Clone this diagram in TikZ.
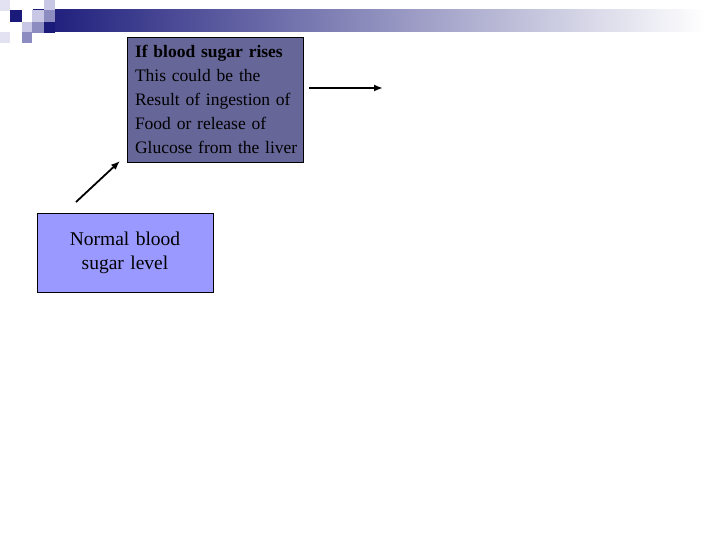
\documentclass[tikz,border=0pt]{standalone}
\usepackage{fontspec}
\setmainfont{Liberation Serif}
\usetikzlibrary{arrows.meta, positioning}
\definecolor{navyblock}{RGB}{26,26,122}
\definecolor{midblock}{RGB}{140,140,192}
\definecolor{lightblock}{RGB}{200,200,230}
\definecolor{paleblock}{RGB}{226,226,242}
\definecolor{risefill}{RGB}{102,102,153}
\definecolor{normalfill}{RGB}{153,153,255}
\tikzset{
  slidebox/.style={
    draw, line width=0.8pt, inner sep=0pt
  },
  risebox/.style={
    slidebox, fill=risefill, align=left, text width=172,
    font=\fontsize{17.5}{24}\selectfont,
    minimum width=176, minimum height=125
  },
  normalbox/.style={
    slidebox, fill=normalfill, align=center, text width=170,
    font=\fontsize{19.5}{24}\selectfont,
    minimum width=176, minimum height=79
  },
  flowarrow/.style={-{Latex[length=9pt, width=7pt]}, line width=1.8pt}
}
\begin{document}
\begin{tikzpicture}[x=1pt, y=-1pt]
  \useasboundingbox[fill=white] (0,0) rectangle (720,540);

  % Title bar and corner blocks
  \shade[left color=navyblock, right color=white] (33,10) rectangle (705,32);
  \fill[paleblock]  (0,0)   rectangle (10,11);
  \fill[paleblock]  (0,32)  rectangle (10,43);
  \fill[navyblock]  (10,10) rectangle (22,22);
  \fill[lightblock] (32,10) rectangle (44,22);
  \fill[lightblock] (44,0)  rectangle (55,10);
  \fill[midblock]   (44,10) rectangle (55,22);
  \fill[navyblock]  (44,22) rectangle (55,33);
  \fill[midblock]   (32,22) rectangle (44,33);
  \fill[lightblock] (22,22) rectangle (32,32);
  \fill[midblock]   (22,32) rectangle (32,43);

  % Boxes
  \node[risebox] (rise) at (215,99.5) {\hspace*{6pt}\textbf{If blood sugar rises}\\
    \hspace*{6pt}This could be the\\\hspace*{6pt}Result of ingestion of\\
    \hspace*{6pt}Food or release of\\\hspace*{6pt}Glucose from the liver};
  \node[normalbox] (normal) at (125,252.5) {Normal blood\\sugar level};

  % Arrows
  \coordinate (riseout) at (383,88);
  \draw[flowarrow] ([xshift=6]rise.east |- riseout) -- (riseout);
  \coordinate (normalup) at (76,202);
  \coordinate (risein) at (120,161);
  \draw[flowarrow] (normalup) -- (risein);
\end{tikzpicture}
\end{document}
